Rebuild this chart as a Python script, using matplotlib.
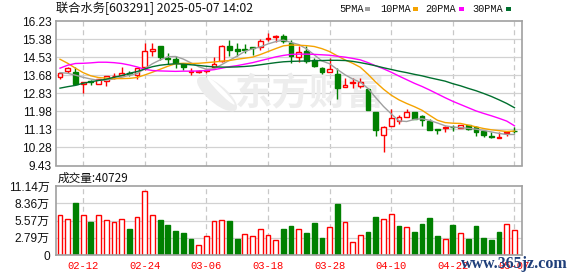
import numpy as np
import matplotlib
matplotlib.use("Agg")
import matplotlib.pyplot as plt
from matplotlib.patches import Rectangle, Ellipse

# trading days shown (02-07 .. 05-07)
dates = ["02-07", "02-10", "02-11", "02-12", "02-13", "02-14", "02-17", "02-18", "02-19", "02-20",
         "02-21", "02-24", "02-25", "02-26", "02-27", "02-28", "03-03", "03-04", "03-05", "03-06",
         "03-07", "03-10", "03-11", "03-12", "03-13", "03-14", "03-17", "03-18", "03-19", "03-20",
         "03-21", "03-24", "03-25", "03-26", "03-27", "03-28", "03-31", "04-01", "04-02", "04-03",
         "04-07", "04-08", "04-09", "04-10", "04-11", "04-14", "04-15", "04-16", "04-17", "04-18",
         "04-21", "04-22", "04-23", "04-24", "04-25", "04-28", "04-29", "04-30", "05-06", "05-07"]
tick_dates = ["02-12", "02-24", "03-06", "03-18", "03-28", "04-10", "04-22", "05-07"]

opens = [13.59, 13.88, 13.82, 13.26, 13.41, 13.26, 13.40, 13.62, 13.70, 13.80,
         13.70, 14.05, 14.84, 15.06, 14.51, 14.43, 14.20, 13.85, 13.85, 13.89,
         14.07, 14.33, 15.06, 14.91, 14.93, 14.99, 14.99, 15.37, 15.46, 15.53,
         15.18, 14.52, 14.84, 14.40, 14.01, 13.85, 13.74, 13.12, 13.33, 13.15,
         13.02, 11.93, 10.88, 11.30, 11.54, 11.69, 11.94, 11.77, 11.53, 11.16,
         11.19, 11.24, 11.18, 11.33, 11.24, 11.06, 10.83, 10.72, 10.96, 11.07]
highs = [13.85, 14.05, 14.05, 13.38, 13.47, 13.49, 13.65, 13.80, 14.07, 13.90,
         14.04, 15.21, 15.21, 15.06, 14.71, 14.59, 14.27, 14.01, 13.93, 13.96,
         14.52, 15.09, 15.34, 15.18, 15.15, 15.03, 15.37, 15.65, 15.57, 15.62,
         15.34, 15.06, 15.06, 14.48, 14.05, 14.48, 14.01, 13.54, 13.54, 13.54,
         13.07, 11.93, 11.30, 12.08, 11.82, 12.08, 11.94, 11.82, 11.61, 11.16,
         11.27, 11.35, 11.32, 11.33, 11.27, 11.06, 10.99, 11.00, 10.99, 11.24]
lows = [13.49, 13.80, 13.23, 12.86, 13.21, 13.26, 13.15, 13.49, 13.68, 13.65,
        13.49, 13.93, 14.59, 14.40, 14.21, 14.01, 13.93, 13.70, 13.77, 13.77,
        14.04, 14.30, 14.59, 14.59, 14.71, 14.65, 14.87, 15.29, 15.26, 15.18,
        14.27, 14.32, 14.27, 14.05, 13.74, 13.85, 12.57, 13.12, 13.07, 13.07,
        12.02, 10.83, 10.05, 11.30, 11.39, 11.69, 11.61, 11.30, 11.08, 10.93,
        10.99, 11.03, 11.18, 11.11, 10.80, 10.75, 10.74, 10.72, 10.83, 10.96]
closes = [13.80, 14.01, 13.27, 13.35, 13.35, 13.49, 13.62, 13.66, 13.80, 13.74,
          14.01, 14.82, 14.90, 14.52, 14.43, 14.24, 14.05, 13.87, 13.85, 13.92,
          14.21, 15.05, 14.87, 14.84, 14.87, 14.96, 15.31, 15.42, 15.53, 15.31,
          14.56, 14.79, 14.37, 14.13, 13.85, 13.96, 13.07, 13.23, 13.36, 13.34,
          12.02, 11.08, 11.22, 11.66, 11.69, 11.93, 11.61, 11.55, 11.08, 11.08,
          11.24, 11.22, 11.32, 11.14, 11.03, 10.85, 10.78, 10.75, 10.99, 11.04]

ma5 = [13.80, 13.77, 13.68, 13.58, 13.50, 13.44, 13.45, 13.50, 13.58, 13.68,
       13.76, 13.98, 14.22, 14.40, 14.55, 14.56, 14.44, 14.26, 14.08, 13.96,
       13.98, 14.18, 14.38, 14.58, 14.80, 14.92, 15.01, 15.15, 15.26, 15.33,
       15.22, 15.12, 14.92, 14.64, 14.35, 14.22, 13.95, 13.70, 13.50, 13.35,
       13.05, 12.62, 12.21, 11.86, 11.53, 11.50, 11.60, 11.63, 11.55, 11.43,
       11.30, 11.24, 11.21, 11.18, 11.14, 11.08, 11.01, 10.94, 10.89, 10.89]
ma10 = [14.43, 14.24, 14.01, 13.80, 13.65, 13.57, 13.54, 13.52, 13.52, 13.53,
        13.57, 13.69, 13.82, 13.96, 14.10, 14.22, 14.24, 14.23, 14.24, 14.27,
        14.30, 14.34, 14.37, 14.43, 14.48, 14.53, 14.65, 14.79, 14.93, 15.06,
        15.10, 15.09, 15.07, 15.03, 14.93, 14.79, 14.59, 14.40, 14.24, 14.05,
        13.72, 13.35, 13.02, 12.74, 12.52, 12.35, 12.20, 12.03, 11.79, 11.56,
        11.45, 11.42, 11.41, 11.33, 11.25, 11.17, 11.11, 11.07, 11.03, 11.05]
ma20 = [14.01, 14.15, 14.23, 14.24, 14.26, 14.29, 14.29, 14.27, 14.23, 14.16,
        14.07, 13.96, 13.90, 13.88, 13.87, 13.86, 13.87, 13.87, 13.88, 13.90,
        13.94, 14.01, 14.08, 14.13, 14.20, 14.27, 14.36, 14.45, 14.54, 14.61,
        14.66, 14.67, 14.67, 14.66, 14.64, 14.62, 14.57, 14.53, 14.47, 14.40,
        14.27, 14.12, 13.98, 13.82, 13.64, 13.47, 13.30, 13.15, 12.98, 12.80,
        12.62, 12.45, 12.30, 12.15, 12.00, 11.88, 11.77, 11.65, 11.52, 11.30]
ma30 = [13.07, 13.14, 13.20, 13.30, 13.37, 13.43, 13.49, 13.58, 13.66, 13.77,
        13.85, 13.97, 14.08, 14.15, 14.19, 14.22, 14.20, 14.17, 14.14, 14.10,
        14.07, 14.06, 14.06, 14.07, 14.09, 14.12, 14.17, 14.22, 14.27, 14.31,
        14.33, 14.34, 14.35, 14.36, 14.37, 14.38, 14.38, 14.37, 14.33, 14.27,
        14.20, 14.12, 14.03, 13.95, 13.87, 13.80, 13.72, 13.65, 13.56, 13.48,
        13.40, 13.28, 13.18, 13.06, 12.95, 12.82, 12.68, 12.52, 12.35, 12.15]

# volume in 万 shares, and whether the bar is drawn as "up" (red hollow)
volume = [6.46, 5.76, 8.45, 6.46, 5.38, 6.46, 5.65, 5.27, 5.76, 4.20,
          6.13, 10.33, 6.46, 5.65, 4.84, 3.87, 3.60, 2.58, 1.61, 3.07,
          5.49, 5.65, 5.49, 2.58, 3.39, 3.07, 4.20, 3.23, 2.42, 4.20,
          4.68, 4.20, 3.60, 5.22, 2.80, 4.52, 8.28, 5.33, 2.10, 3.23,
          3.76, 6.13, 5.76, 6.62, 4.68, 4.46, 3.71, 5.00, 5.97, 3.07,
          2.53, 4.84, 3.50, 2.58, 4.68, 2.69, 2.42, 3.71, 4.95, 4.07]
vol_up = [1, 1, 0, 1, 0, 1, 1, 1, 1, 0, 1, 1, 1, 0, 0, 0, 0, 0, 1, 1,
          1, 1, 0, 0, 1, 1, 1, 1, 1, 0, 0, 1, 0, 0, 0, 1, 0, 1, 1, 1,
          0, 0, 1, 1, 0, 1, 0, 0, 0, 0, 1, 0, 1, 0, 0, 0, 0, 0, 1, 1]

price_ticks = [9.43, 10.28, 11.13, 11.98, 12.83, 13.68, 14.53, 15.38, 16.23]
vol_ticks = [0, 2.79, 5.57, 8.36, 11.14]
last_vol = 40729

RED = "#ff0000"
GREEN = "#008000"
GRID = "#d2d2d2"
FRAME = "#a0a0a0"
MARK = "#ededed"
CJK = ["Noto Sans CJK SC", "DejaVu Sans"]

W, H = 578, 276
fig = plt.figure(figsize=(W / 100, H / 100), dpi=100)

def px_axes(x0, y0, x1, y1):
    return fig.add_axes([x0 / W, 1 - y1 / H, (x1 - x0) / W, (y1 - y0) / H])

def px(xp, yp):
    return (xp / W, 1 - yp / H)

ax = px_axes(56, 21, 522, 165.5)
axv = px_axes(56, 186, 522, 255)

n = len(closes)
x = np.arange(n)
tick_pos = [dates.index(d) for d in tick_dates]
bw = 0.62

for a in (ax, axv):
    a.set_xlim(-0.52, n - 0.02)
    for s in a.spines.values():
        s.set_color(FRAME)
        s.set_linewidth(1.2)
    for t in tick_pos:
        a.axvline(t, color="#c8c8c8", lw=0.9, ls=(0, (4, 3)), zorder=0)

# price panel
ax.set_ylim(price_ticks[0], price_ticks[-1])
ax.set_yticks(price_ticks)
ax.set_yticklabels([f"{v:.2f}" for v in price_ticks], fontsize=8.6,
                   family="Liberation Sans", color="#111111")
for v in price_ticks[1:-1]:
    ax.axhline(v, color=GRID, lw=0.9, zorder=0)
ax.set_xticks(tick_pos)
ax.set_xticklabels([])
ax.tick_params(length=0, pad=3)

# watermark (logo leaf + name)
ax.add_patch(Ellipse(px(217, 94), 24 / W, 38 / H, angle=25, transform=fig.transFigure,
                     facecolor=MARK, edgecolor="none", zorder=0.5))
ax.add_patch(Ellipse(px(221, 91), 6 / W, 30 / H, angle=25, transform=fig.transFigure,
                     facecolor="white", edgecolor="none", zorder=0.6))
ax.text(*px(310, 94), "东方财富", transform=fig.transFigure, fontsize=27,
        fontweight="bold", family=CJK, color=MARK, ha="center", va="center", zorder=0.5)

for i in x:
    o, h, l, c = opens[i], highs[i], lows[i], closes[i]
    up = c >= o
    col = RED if up else GREEN
    top, bot = max(o, c), min(o, c)
    ax.plot([i, i], [top, h], color=col, lw=1, zorder=2, solid_capstyle="butt")
    ax.plot([i, i], [l, bot], color=col, lw=1, zorder=2, solid_capstyle="butt")
    body = max(top - bot, 0.012)
    ax.add_patch(Rectangle((i - bw / 2, bot), bw, body,
                           facecolor="white" if up else col, edgecolor=col,
                           lw=1, zorder=2.5))

ax.plot(x, ma5, color="#a0a0a0", lw=1, zorder=3)
ax.plot(x, ma10, color="#f5a300", lw=1, zorder=3)
ax.plot(x, ma20, color="#ff00ff", lw=1, zorder=3)
ax.plot(x, ma30, color="#006f2e", lw=1, zorder=3)

# volume panel
axv.set_ylim(0, vol_ticks[-1])
axv.set_yticks(vol_ticks)
axv.set_yticklabels(["0"] + [f"{v:.2f}万" for v in vol_ticks[1:]], fontsize=8.6,
                    family=["Liberation Sans", "Noto Sans CJK SC"], color="#111111")
for v in vol_ticks[1:-1]:
    axv.axhline(v, color=GRID, lw=0.9, zorder=0)
for i in x:
    col = RED if vol_up[i] else GREEN
    axv.bar(i, volume[i], width=bw, facecolor="white" if vol_up[i] else col,
            edgecolor=col, lw=1, zorder=2)
axv.set_xticks(tick_pos)
axv.set_xticklabels(tick_dates, fontsize=7.6, family="Liberation Mono", color=RED)
axv.tick_params(length=0, pad=4.5)

# header texts
fig.text(*px(56, 8.5), "联合水务[603291] 2025-05-07 14:02", fontsize=8.8,
         family=CJK, va="center", ha="left", color="#111111")
fig.text(*px(58, 178), f"成交量:{last_vol}", fontsize=8.4,
         family=CJK, va="center", ha="left", color="#111111")

legend = [("5PMA", 339, 365, "#a0a0a0"), ("10PMA", 380, 413, "#f5a300"),
          ("20PMA", 425, 459, "#ff00ff"), ("30PMA", 472, 506, "#006f2e")]
for label, tx, sx, col in legend:
    fig.text(*px(tx, 9), label, fontsize=7.4, family="Liberation Mono",
             va="center", ha="left", color="#111111")
    fig.patches.append(Rectangle(px(sx, 10.5), 5 / W, 3.5 / H,
                                 transform=fig.transFigure, facecolor=col,
                                 edgecolor="none"))

# site watermark drawn over the last date label, as in the source image
fig.text(*px(514, 264), "www.365jz.com", fontsize=11.5, family="Liberation Serif",
         fontweight="bold", color="#1f3f7a", ha="center", va="center", zorder=5)

fig.savefig("out.png", dpi=100)
